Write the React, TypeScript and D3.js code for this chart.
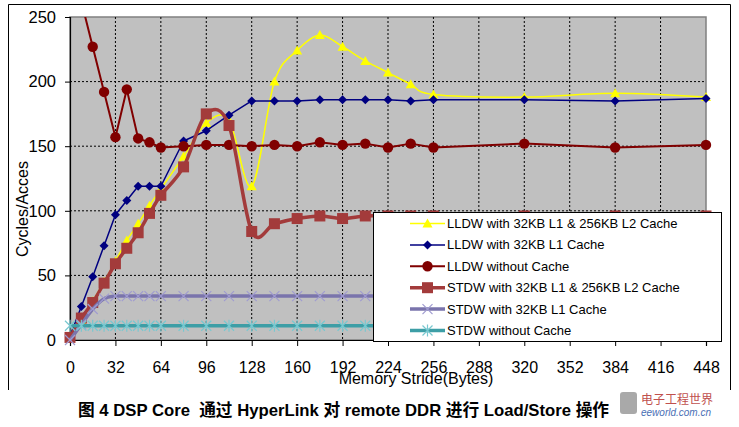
import * as d3 from "d3";
import React, { useEffect, useRef } from "react";

// memory strides (bytes) on the x axis
const strides = [0, 8, 16, 24, 32, 40, 48, 56, 64, 80, 96, 112, 128, 144, 160, 176, 192, 208, 224, 240, 256, 320, 384, 448];
const xTicks = [0, 32, 64, 96, 128, 160, 192, 224, 256, 288, 320, 352, 384, 416, 448];
const yTicks = [0, 50, 100, 150, 200, 250];

// cycles per access, one value per stride (null = no point)
const lldwL1L2 = [3, 15, 30, 45, 61, 77, 90, 104, 117, 142, 168, 170, 119, 200, 224, 236, 227, 216, 207, 198, 190, 188, 191, 188];
const lldwL1 = [3, 26, 49, 73, 97, 108, 119, 119, 119, 154, 162, 174, 185, 185, 185, 186, 186, 186, 186, 185, 186, 186, 185, 187];
const lldwNoCache = [null, 262, 227, 192, 157, 194, 156, 153, 149, 150, 151, 151, 150, 151, 150, 153, 151, 152, 149, 152, 149, 152, 149, 151];
const stdwL1L2 = [2, 17, 29, 44, 59, 71, 83, 98, 112, 134, 175, 166, 84, 90, 94, 96, 94, 96, 96, 96, 96, 96, 96, 96];
const stdwL1 = [0, 12, 24, 32, 34, 34, 34, 34, 34, 34, 34, 34, 34, 34, 34, 34, 34, 34, 34, 34, 34, 34, 34, 34];
const stdwNoCache = [11, 11, 11, 11, 11, 11, 11, 11, 11, 11, 11, 11, 11, 11, 11, 11, 11, 11, 11, 11, 11, 11, 11, 11];

const seriesNames = [
  "LLDW with 32KB L1 & 256KB L2 Cache",
  "LLDW with 32KB L1 Cache",
  "LLDW without Cache",
  "STDW with 32KB L1 & 256KB L2 Cache",
  "STDW with 32KB L1 Cache",
  "STDW without Cache",
];

const caption = "图 4 DSP Core  通过 HyperLink 对 remote DDR 进行 Load/Store 操作";

type Marker = "triangle" | "diamond" | "circle" | "square" | "cross" | "star";

interface Series {
  name: string;
  values: (number | null)[];
  color: string;
  markerColor: string;
  lineWidth: number;
  marker: Marker;
  smooth: boolean;
}

const FONT = "Arial, 'Liberation Sans', 'Noto Sans CJK SC', sans-serif";

function drawMarker(g: d3.Selection<SVGGElement, unknown, null, undefined>, type: Marker, cx: number, cy: number, color: string) {
  if (type === "triangle") {
    g.append("path").attr("d", `M${cx},${cy - 5}L${cx + 5},${cy + 4}L${cx - 5},${cy + 4}Z`).attr("fill", color);
  } else if (type === "diamond") {
    g.append("path").attr("d", `M${cx},${cy - 4.5}L${cx + 4.5},${cy}L${cx},${cy + 4.5}L${cx - 4.5},${cy}Z`).attr("fill", color);
  } else if (type === "circle") {
    g.append("circle").attr("cx", cx).attr("cy", cy).attr("r", 5.2).attr("fill", color);
  } else if (type === "square") {
    g.append("rect").attr("x", cx - 5.5).attr("y", cy - 5.5).attr("width", 11).attr("height", 11).attr("fill", color);
  } else {
    const s = 5;
    g.append("path")
      .attr("d", `M${cx - s},${cy - s}L${cx + s},${cy + s}M${cx - s},${cy + s}L${cx + s},${cy - s}` + (type === "star" ? `M${cx},${cy - s - 1}L${cx},${cy + s + 1}` : ""))
      .attr("stroke", color)
      .attr("stroke-width", 1.2)
      .attr("fill", "none");
  }
}

const App: React.FC = () => {
  const svgRef = useRef<SVGSVGElement | null>(null);

  useEffect(() => {
    const svg = d3.select(svgRef.current);
    svg.selectAll("*").remove();

    const series: Series[] = [
      { name: seriesNames[0], values: lldwL1L2, color: "#ffff00", markerColor: "#ffff00", lineWidth: 1.5, marker: "triangle", smooth: true },
      { name: seriesNames[1], values: lldwL1, color: "#000080", markerColor: "#000080", lineWidth: 1.5, marker: "diamond", smooth: false },
      { name: seriesNames[2], values: lldwNoCache, color: "#800000", markerColor: "#800000", lineWidth: 2, marker: "circle", smooth: false },
      { name: seriesNames[3], values: stdwL1L2, color: "#a33b3b", markerColor: "#a33b3b", lineWidth: 3.5, marker: "square", smooth: true },
      { name: seriesNames[4], values: stdwL1, color: "#7a74ac", markerColor: "#a09cd0", lineWidth: 3.5, marker: "cross", smooth: true },
      { name: seriesNames[5], values: stdwNoCache, color: "#3d9ea6", markerColor: "#78c8d0", lineWidth: 3.5, marker: "star", smooth: true },
    ];

    // scales
    const x = d3.scaleLinear().domain([0, 448]).range([70, 706]);
    const y = d3.scaleLinear().domain([0, 250]).range([340, 17]);

    // white background + chart border (bottom edge cut off)
    svg.append("rect").attr("width", 739).attr("height", 427).attr("fill", "#fff");
    svg.append("path").attr("d", "M8.5,390V4.5H730.5V390").attr("fill", "none").attr("stroke", "#000").attr("stroke-width", 1);

    // plot area
    svg.append("rect")
      .attr("x", x(0)).attr("y", y(250))
      .attr("width", x(448) - x(0)).attr("height", y(0) - y(250))
      .attr("fill", "#c0c0c0").attr("stroke", "#808080").attr("stroke-width", 1.5);

    // gridlines
    const grid = svg.append("g").attr("stroke", "#000").attr("stroke-width", 1).attr("stroke-dasharray", "2,2");
    xTicks.filter((t) => t > 0 && t < 448).forEach((t) => {
      grid.append("line").attr("x1", x(t)).attr("x2", x(t)).attr("y1", y(250)).attr("y2", y(0));
    });
    yTicks.filter((t) => t > 0 && t < 250).forEach((t) => {
      grid.append("line").attr("x1", x(0)).attr("x2", x(448)).attr("y1", y(t)).attr("y2", y(t));
    });

    // axes
    const axisX = svg.append("g").attr("transform", `translate(0, ${y(0)})`).call(d3.axisBottom(x).tickValues(xTicks).tickSize(6).tickFormat(d3.format("d")));
    const axisY = svg.append("g").attr("transform", `translate(${x(0)}, 0)`).call(d3.axisLeft(y).tickValues(yTicks).tickSize(5).tickPadding(10));
    [axisX, axisY].forEach((a) => {
      a.select(".domain").attr("stroke", "#000").attr("stroke-width", 1.2);
      a.selectAll("line").attr("stroke", "#000");
      a.selectAll("text").attr("font-family", FONT).attr("font-size", 16).attr("fill", "#000");
    });
    axisX.selectAll("text").attr("dy", null).attr("y", 33);
    axisY.selectAll("text").attr("x", -14).attr("font-size", 16.5);

    // axis titles
    svg.append("text")
      .attr("x", 416).attr("y", 384).attr("text-anchor", "middle")
      .attr("font-family", FONT).attr("font-size", 16).text("Memory Stride(Bytes)");
    svg.append("text")
      .attr("transform", "translate(28, 209) rotate(-90)").attr("text-anchor", "middle")
      .attr("font-family", FONT).attr("font-size", 16).text("Cycles/Acces");

    // series
    svg.append("clipPath").attr("id", "plot-clip").append("rect").attr("x", 55).attr("y", y(250)).attr("width", 670).attr("height", 340);
    const plot = svg.append("g").attr("clip-path", "url(#plot-clip)");

    series.forEach((s) => {
      const pts = strides.map((st, i) => ({ st, v: s.values[i] }));
      const line = d3
        .line<{ st: number; v: number | null }>()
        .defined((d) => d.v !== null)
        .x((d) => x(d.st))
        .y((d) => y(d.v as number))
        .curve(s.smooth ? d3.curveCatmullRom.alpha(0) : d3.curveLinear);
      plot.append("path")
        .attr("d", line(pts)!)
        .attr("fill", "none")
        .attr("stroke", s.color)
        .attr("stroke-width", s.lineWidth)
        .attr("stroke-linejoin", "round");
      const mg = plot.append("g");
      pts.filter((d) => d.v !== null).forEach((d) => drawMarker(mg, s.marker, x(d.st), y(d.v as number), s.markerColor));
    });

    // legend
    const legend = svg.append("g");
    legend.append("rect").attr("x", 373.5).attr("y", 212.5).attr("width", 348).attr("height", 129)
      .attr("fill", "#fff").attr("stroke", "#000").attr("stroke-width", 1);
    series.forEach((s, i) => {
      const ly = 223.5 + i * 21.4;
      legend.append("line").attr("x1", 410).attr("x2", 445).attr("y1", ly).attr("y2", ly)
        .attr("stroke", s.color).attr("stroke-width", s.lineWidth);
      const mg = legend.append("g");
      drawMarker(mg, s.marker, 427.5, ly, s.markerColor);
      legend.append("text").attr("x", 447).attr("y", ly).attr("dy", "0.35em")
        .attr("font-family", FONT).attr("font-size", 13).attr("fill", "#000").text(s.name);
    });

    // caption
    svg.append("text")
      .attr("x", 78).attr("y", 416)
      .attr("font-family", FONT).attr("font-size", 16.7).attr("font-weight", "bold")
      .style("white-space", "pre").text(caption);

    // eeworld watermark
    const wm = svg.append("g");
    wm.append("rect").attr("x", 620).attr("y", 392).attr("width", 17).attr("height", 22).attr("rx", 3).attr("fill", "#9a9a9a").attr("opacity", 0.85);
    wm.append("text").attr("x", 641).attr("y", 404).attr("font-family", FONT).attr("font-size", 12).attr("fill", "#c0504d").text("电子工程世界");
    wm.append("text").attr("x", 641).attr("y", 416).attr("font-family", FONT).attr("font-size", 10).attr("font-style", "italic").attr("fill", "#4a6fb5").text("eeworld.com.cn");
  }, []);

  return <svg ref={svgRef} width={739} height={427} style={{ position: "absolute", left: 0, top: 0 }}></svg>;
};

export default App;
